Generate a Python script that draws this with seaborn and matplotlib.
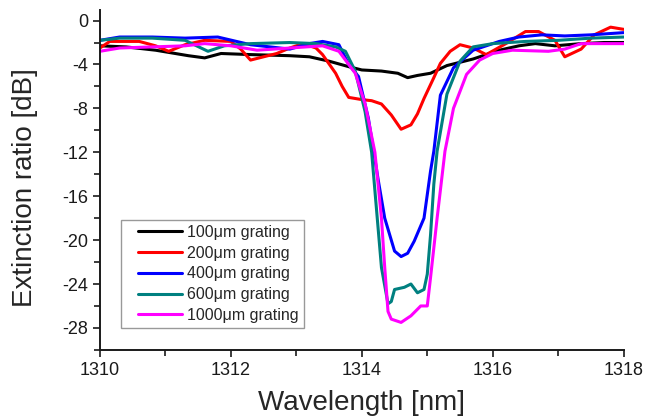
import numpy as np
import pandas as pd
import matplotlib
matplotlib.use("Agg")
import matplotlib.pyplot as plt
from matplotlib.ticker import MultipleLocator
from matplotlib.lines import Line2D
from matplotlib.legend_handler import HandlerLine2D
import seaborn as sns

# Transmission spectra for gratings of different lengths
wl_100 = [1310.0, 1310.4, 1310.85, 1311.35, 1311.6, 1311.85, 1312.3, 1312.9, 1313.2, 1313.5,
          1313.8, 1314.0, 1314.3, 1314.55, 1314.7, 1314.85, 1315.05, 1315.3, 1315.5, 1315.7,
          1316.1, 1316.4, 1316.65, 1316.95, 1317.35, 1317.7, 1318.0]
er_100 = [-2.3, -2.4, -2.7, -3.2, -3.4, -3.0, -3.1, -3.2, -3.3, -3.7,
          -4.2, -4.5, -4.6, -4.8, -5.2, -5.0, -4.8, -4.1, -3.8, -3.5,
          -2.7, -2.3, -2.1, -2.3, -2.1, -2.0, -2.0]

wl_200 = [1310.0, 1310.15, 1310.6, 1310.85, 1311.05, 1311.3, 1311.6, 1312.0, 1312.15, 1312.3,
          1312.5, 1312.7, 1312.9, 1313.1, 1313.3, 1313.4, 1313.6, 1313.7, 1313.8, 1314.0,
          1314.15, 1314.3, 1314.45, 1314.6, 1314.75, 1314.85, 1314.95, 1315.1, 1315.2, 1315.35,
          1315.5, 1315.7, 1315.9, 1316.2, 1316.5, 1316.7, 1316.95, 1317.1, 1317.35, 1317.55,
          1317.8, 1318.0]
er_200 = [-2.5, -1.9, -1.9, -2.3, -2.8, -2.2, -1.8, -1.9, -2.6, -3.6,
          -3.3, -3.0, -2.5, -2.1, -2.5, -3.1, -4.8, -6.0, -7.0, -7.2,
          -7.3, -7.6, -8.6, -9.9, -9.5, -8.5, -7.1, -5.2, -3.9, -2.8,
          -2.2, -2.5, -3.1, -2.1, -1.0, -1.0, -1.8, -3.3, -2.6, -1.3,
          -0.6, -0.8]

wl_400 = [1310.0, 1310.3, 1310.8, 1311.3, 1311.8, 1312.3, 1312.9, 1313.2, 1313.4, 1313.65,
          1313.8, 1313.95, 1314.1, 1314.25, 1314.35, 1314.5, 1314.6, 1314.7, 1314.8, 1314.95,
          1315.05, 1315.1, 1315.2, 1315.4, 1315.7, 1316.1, 1316.4, 1316.75, 1317.1, 1317.5,
          1318.0]
er_400 = [-1.8, -1.5, -1.5, -1.6, -1.5, -2.2, -2.6, -2.1, -1.9, -2.2,
          -4.0, -5.1, -8.9, -14.5, -18.0, -21.0, -21.5, -21.2, -20.1, -18.0,
          -13.7, -11.9, -6.8, -4.3, -2.7, -1.9, -1.5, -1.3, -1.4, -1.3,
          -1.1]

wl_600 = [1310.0, 1310.3, 1310.8, 1311.3, 1311.65, 1311.9, 1312.3, 1312.9, 1313.3, 1313.6,
          1313.75, 1313.9, 1314.05, 1314.15, 1314.3, 1314.4, 1314.45, 1314.5, 1314.65, 1314.75,
          1314.85, 1314.95, 1315.0, 1315.05, 1315.1, 1315.15, 1315.3, 1315.5, 1315.7, 1316.0,
          1316.5, 1317.0, 1317.5, 1318.0]
er_600 = [-1.8, -1.6, -1.6, -1.8, -2.8, -2.3, -2.1, -2.0, -2.1, -2.4,
          -2.8, -4.6, -8.3, -12.0, -22.5, -25.8, -25.6, -24.5, -24.3, -24.0,
          -24.8, -24.5, -23.1, -19.5, -14.9, -11.9, -6.7, -3.7, -2.4, -2.1,
          -1.9, -1.8, -1.6, -1.5]

wl_1000 = [1310.0, 1310.3, 1310.8, 1311.3, 1311.6, 1312.0, 1312.4, 1312.9, 1313.4, 1313.65,
           1313.8, 1313.9, 1314.05, 1314.2, 1314.3, 1314.35, 1314.4, 1314.45, 1314.6, 1314.75,
           1314.9, 1315.0, 1315.05, 1315.15, 1315.27, 1315.4, 1315.6, 1315.8, 1316.0, 1316.3,
           1316.85, 1317.1, 1317.35, 1318.0]
er_1000 = [-2.8, -2.5, -2.4, -2.3, -2.1, -2.3, -2.7, -2.5, -2.3, -2.8,
           -4.0, -4.8, -7.6, -12.0, -18.0, -22.5, -26.5, -27.2, -27.5, -26.9,
           -26.0, -26.0, -23.4, -18.0, -11.9, -8.0, -4.9, -3.6, -3.0, -2.7,
           -2.8, -2.6, -2.1, -2.1]

labels = ["100μm grating", "200μm grating", "400μm grating",
          "600μm grating", "1000μm grating"]
colors = ["#000000", "#ff0000", "#0000ff", "#008080", "#ff00ff"]

series = [(wl_100, er_100), (wl_200, er_200), (wl_400, er_400),
          (wl_600, er_600), (wl_1000, er_1000)]
df = pd.concat(
    [pd.DataFrame({"wavelength": w, "er": e, "grating": lab})
     for (w, e), lab in zip(series, labels)],
    ignore_index=True,
)

sns.set_style("ticks")
plt.rcParams["font.family"] = ["Liberation Sans", "DejaVu Sans"]
plt.rcParams["axes.unicode_minus"] = False

fig = plt.figure(figsize=(6.49, 4.17), dpi=100)
ax = fig.add_axes([0.154, 0.161, 0.807, 0.816])

sns.lineplot(data=df, x="wavelength", y="er", hue="grating", hue_order=labels,
             palette=dict(zip(labels, colors)), sort=False, estimator=None,
             linewidth=2.2, ax=ax)

ax.set_xlim(1310, 1318)
ax.set_ylim(-30, 1)
ax.xaxis.set_major_locator(MultipleLocator(2))
ax.xaxis.set_minor_locator(MultipleLocator(1))
ax.set_yticks([0, -4, -8, -12, -16, -20, -24, -28])
ax.yaxis.set_minor_locator(MultipleLocator(2))
ax.tick_params(which="major", direction="out", length=5, width=1.2, pad=3.5,
               labelsize=13, colors="#1a1a1a")
ax.tick_params(which="minor", direction="out", length=4, width=1.2, colors="#1a1a1a")
for side in ("top", "right"):
    ax.spines[side].set_visible(False)
for side in ("left", "bottom"):
    ax.spines[side].set_linewidth(1.4)
    ax.spines[side].set_color("#1a1a1a")

ax.set_xlabel("Wavelength [nm]", fontsize=20)
ax.set_ylabel("Extinction ratio [dB]", fontsize=20)
ax.xaxis.set_label_coords(0.5, -0.118)
ax.yaxis.set_label_coords(-0.119, 0.478)

leg = ax.legend(loc="lower left", bbox_to_anchor=(0.040, 0.065), fontsize=11.5,
                frameon=True, fancybox=False, edgecolor="#808080",
                handlelength=3.55, handletextpad=0.3, borderpad=0.3,
                labelspacing=0.36, borderaxespad=0,
                handler_map={Line2D: HandlerLine2D(xpad=0.76)})
leg.get_frame().set_linewidth(1.0)
for line in leg.get_lines():
    line.set_linewidth(2.2)

fig.savefig("out.png", dpi=100)
